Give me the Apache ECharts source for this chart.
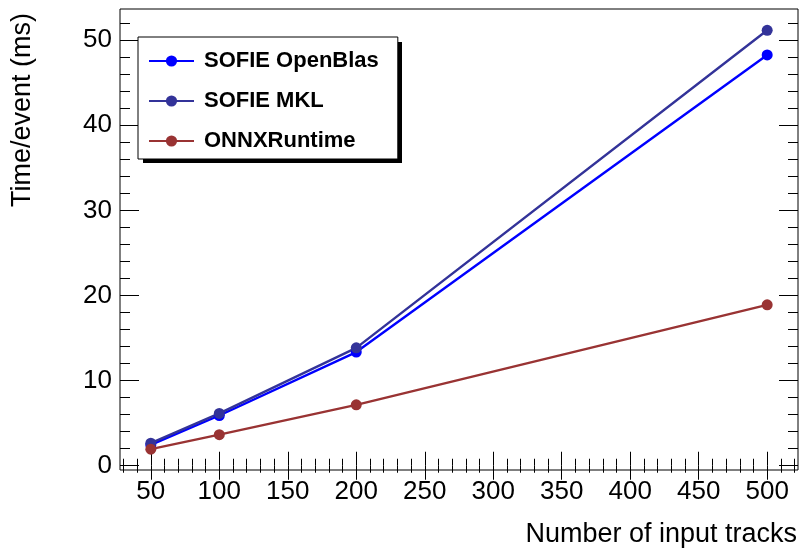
<!DOCTYPE html>
<html><head><meta charset="utf-8">
<script src="https://cdn.jsdelivr.net/npm/echarts@6/dist/echarts.min.js"></script>
<style>html,body{margin:0;padding:0;background:#fff}#c{width:800px;height:550px}</style>
</head><body><div id="c"></div>
<script>
// ---- data ----
const tracks = [50, 100, 200, 500];
const openBlas = [2.45, 5.9, 13.35, 48.25];
const mkl = [2.65, 6.15, 13.85, 51.15];
const onnx = [1.95, 3.65, 7.15, 18.9];
const seriesNames = ['SOFIE OpenBlas', 'SOFIE MKL', 'ONNXRuntime'];
const xMajorTicks = [50, 100, 150, 200, 250, 300, 350, 400, 450, 500];
const yMajorTicks = [0, 10, 20, 30, 40, 50];
const xRange = [27.5, 522.5];
const yRange = [-0.5, 53.65];
const xTitle = 'Number of input tracks';
const yTitle = 'Time/event (ms)';

const xMinorTicks = [];
for (let v = 30; v <= 520; v += 10) if (v % 50 !== 0) xMinorTicks.push(v);
const yMinorTicks = [];
for (let v = 2; v <= 52; v += 2) if (v % 10 !== 0) yMinorTicks.push(v);

const FONT = 'Liberation Sans';
const chart = echarts.init(document.getElementById('c'), null, {renderer: 'canvas'});

function xAx(pos, ticks, len, labels, extra) {
  return Object.assign({
    type: 'value', position: pos, min: xRange[0], max: xRange[1],
    axisLine: {show: false}, splitLine: {show: false},
    axisTick: {show: true, inside: true, length: len, customValues: ticks, lineStyle: {color: '#000', width: 1}},
    axisLabel: labels ? {show: true, customValues: ticks, color: '#000', fontSize: 26, fontFamily: FONT, margin: 9} : {show: false}
  }, extra || {});
}
function yAx(pos, ticks, len, labels, extra) {
  return Object.assign({
    type: 'value', position: pos, min: yRange[0], max: yRange[1],
    axisLine: {show: false}, splitLine: {show: false},
    axisTick: {show: true, inside: true, length: len, customValues: ticks, lineStyle: {color: '#000', width: 1}},
    axisLabel: labels ? {show: true, customValues: ticks, color: '#000', fontSize: 26, fontFamily: FONT, margin: 8} : {show: false}
  }, extra || {});
}

const colors = ['#0000ff', '#333399', '#993333'];
const values = [openBlas, mkl, onnx];

chart.setOption({
  animation: false,
  backgroundColor: '#fff',
  grid: {left: 120, right: 2, top: 9, bottom: 80, show: true, borderColor: '#000', borderWidth: 1, backgroundColor: '#fff'},
  graphic: [{
    type: 'rect', z: 1, silent: true,
    shape: {x: 143, y: 42, width: 259, height: 121},
    style: {fill: '#000'}
  }],
  xAxis: [
    xAx('bottom', xMajorTicks, 14, true, {
      name: xTitle, nameLocation: 'end', nameGap: -1,
      nameTextStyle: {fontSize: 27, fontFamily: FONT, color: '#000', align: 'right', verticalAlign: 'top', padding: [55, 0, 0, 0]}
    }),
    xAx('bottom', xMinorTicks, 7, false),
    xAx('top', xMajorTicks, 14, false),
    xAx('top', xMinorTicks, 7, false)
  ],
  yAxis: [
    yAx('left', yMajorTicks, 19, true, {
      name: yTitle, nameLocation: 'end', nameGap: -4, nameRotate: 90,
      nameTextStyle: {fontSize: 27, fontFamily: FONT, color: '#000', align: 'right', verticalAlign: 'bottom', padding: [0, 0, 84, 0]}
    }),
    yAx('left', yMinorTicks, 10, false),
    yAx('right', yMajorTicks, 19, false),
    yAx('right', yMinorTicks, 10, false)
  ],
  legend: {
    left: 138, top: 37, orient: 'vertical', z: 5,
    padding: [13, 19, 7, 10], itemGap: 18, itemWidth: 45, itemHeight: 14,
    backgroundColor: '#fff', borderColor: '#000', borderWidth: 1, borderRadius: 0,
    textStyle: {fontSize: 22, fontWeight: 'bold', fontFamily: FONT, color: '#000', padding: [0, 0, 0, 5]},
    data: seriesNames
  },
  series: seriesNames.map((n, i) => ({
    name: n, type: 'line', xAxisIndex: 0, yAxisIndex: 0,
    data: tracks.map((t, j) => [t, values[i][j]]),
    symbol: 'circle', symbolSize: 11, showSymbol: true,
    lineStyle: {color: colors[i], width: 2.4},
    itemStyle: {color: colors[i]},
    emphasis: {disabled: true}
  }))
});
</script>
</body></html>
